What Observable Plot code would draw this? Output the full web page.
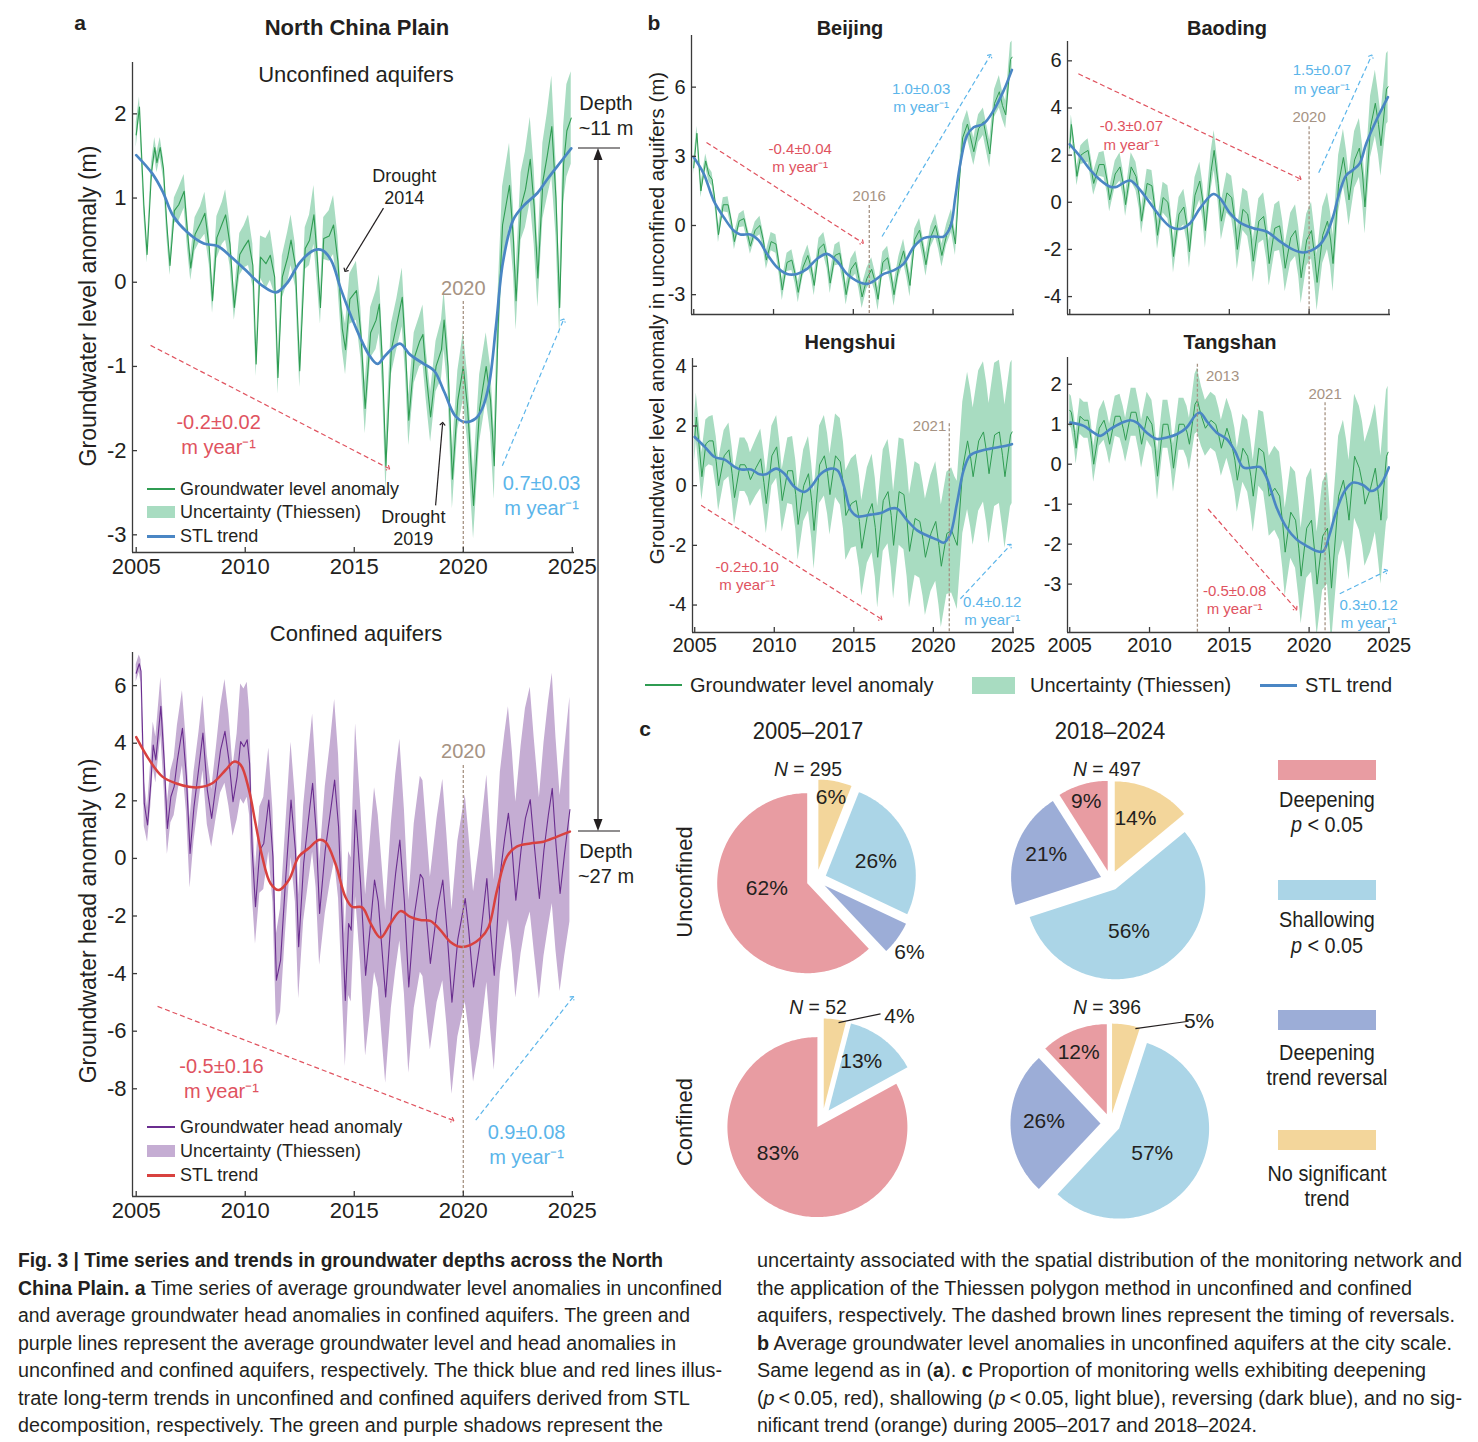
<!DOCTYPE html>
<html><head><meta charset="utf-8">
<script src="https://cdn.jsdelivr.net/npm/d3@7"></script>
<script src="https://cdn.jsdelivr.net/npm/@observablehq/plot@0.6"></script>
<style>
body{margin:0;background:#fff;}
#page{position:relative;width:1478px;height:1442px;overflow:hidden;font-family:"Liberation Sans",Arial,Helvetica,sans-serif;color:#231f20;background:#fff;}
#page svg{overflow:visible;}
.abs{position:absolute;white-space:nowrap;line-height:1;}
</style></head>
<body><div id="page"></div>
<script>
// ---------------- DATA ----------------
const years = [2005, 2010, 2015, 2020, 2025];
// North China Plain, unconfined: [year, anomaly (m), uncertainty half-width (m)]
const ncpUnconfined = [
[2005.0,1.75,0.15],[2005.15,2.08,0.12],[2005.35,0.92,0.12],[2005.5,0.33,0.1],[2005.7,1.3,0.12],[2005.85,1.6,0.12],[2005.95,1.42,0.12],
[2006.1,1.6,0.12],[2006.25,1.35,0.12],[2006.4,0.7,0.15],[2006.55,0.2,0.12],[2006.75,0.85,0.15],[2006.95,0.92,0.2],
[2007.2,1.08,0.2],[2007.35,0.6,0.2],[2007.5,0.17,0.15],[2007.7,0.57,0.2],[2007.95,0.7,0.2],
[2008.15,0.82,0.25],[2008.35,0.41,0.2],[2008.5,-0.22,0.15],[2008.7,0.53,0.25],[2008.95,0.7,0.25],
[2009.1,0.8,0.3],[2009.3,0.45,0.25],[2009.5,-0.3,0.15],[2009.75,0.33,0.25],[2009.95,0.42,0.25],
[2010.15,0.5,0.3],[2010.35,0.2,0.25],[2010.5,-0.97,0.15],[2010.7,0.3,0.25],[2010.95,0.22,0.3],
[2011.15,0.32,0.3],[2011.35,0.06,0.2],[2011.5,-1.13,0.2],[2011.7,0.06,0.25],[2011.95,0.3,0.3],
[2012.1,0.5,0.3],[2012.3,0.2,0.25],[2012.5,-1.05,0.2],[2012.75,0.4,0.25],[2012.95,0.5,0.3],
[2013.15,0.8,0.35],[2013.3,0.3,0.3],[2013.45,-0.3,0.2],[2013.6,0.52,0.25],[2013.85,0.55,0.3],
[2014.05,0.68,0.35],[2014.25,0.25,0.3],[2014.45,-0.55,0.25],[2014.6,-0.8,0.3],[2014.8,-0.2,0.3],
[2015.1,-0.1,0.35],[2015.3,-0.6,0.3],[2015.5,-1.5,0.3],[2015.75,-0.6,0.3],
[2016.0,-0.45,0.35],[2016.15,-0.26,0.35],[2016.3,-1.0,0.3],[2016.45,-2.18,0.3],[2016.7,-0.8,0.3],[2016.95,-0.5,0.3],
[2017.2,-0.18,0.35],[2017.35,-0.8,0.3],[2017.5,-1.64,0.3],[2017.75,-0.9,0.3],
[2018.0,-0.7,0.3],[2018.15,-0.62,0.35],[2018.3,-1.1,0.3],[2018.5,-1.6,0.3],[2018.75,-1.0,0.3],
[2019.0,-0.8,0.35],[2019.12,-0.45,0.35],[2019.3,-1.0,0.3],[2019.5,-2.34,0.35],[2019.75,-1.4,0.35],
[2020.0,-1.0,0.4],[2020.2,-1.5,0.4],[2020.47,-2.65,0.4],[2020.75,-1.5,0.4],
[2021.05,-1.0,0.4],[2021.25,-1.4,0.4],[2021.42,-2.18,0.4],[2021.6,-0.5,0.4],[2021.8,0.68,0.45],
[2022.12,1.15,0.5],[2022.3,0.5,0.4],[2022.42,-0.22,0.35],[2022.65,0.9,0.4],[2022.85,1.1,0.45],
[2023.07,1.46,0.5],[2023.25,0.9,0.45],[2023.42,0.05,0.35],[2023.65,1.2,0.45],[2023.85,1.5,0.5],
[2024.06,1.85,0.6],[2024.25,1.0,0.45],[2024.42,-0.3,0.35],[2024.6,1.4,0.45],[2024.75,1.8,0.55],[2024.95,1.95,0.55]
];
const ncpUnconfinedTrend = [
[2005.0,1.51],[2005.74,1.29],[2006.21,1.08],[2006.69,0.79],[2007.32,0.6],[2008.1,0.46],[2008.73,0.43],[2009.36,0.3],
[2009.99,0.15],[2010.78,-0.04],[2011.41,-0.12],[2011.89,-0.02],[2012.52,0.24],[2013.15,0.38],[2013.54,0.38],[2013.94,0.26],
[2014.41,-0.1],[2015.04,-0.52],[2015.67,-0.86],[2016.06,-0.97],[2016.46,-0.86],[2017.09,-0.73],[2017.56,-0.86],[2018.19,-0.97],
[2018.66,-1.05],[2019.14,-1.31],[2019.61,-1.58],[2020.08,-1.66],[2020.56,-1.62],[2020.87,-1.5],[2021.19,-1.2],[2021.5,-0.52],
[2021.82,0.24],[2022.29,0.74],[2022.77,0.91],[2023.4,1.06],[2023.87,1.23],[2024.5,1.44],[2024.95,1.59]
];
// North China Plain, confined: [year, head anomaly (m), uncertainty half-width (m)]
const ncpConfined = [
[2005.0,6.43,0.3],[2005.14,6.76,0.3],[2005.22,6.5,0.4],[2005.37,1.91,0.8],[2005.52,1.16,0.6],[2005.67,2.61,0.8],[2005.78,3.94,0.8],[2005.9,3.42,0.8],
[2006.13,5.28,1.0],[2006.28,3.42,1.0],[2006.43,1.04,0.9],[2006.59,2.14,0.9],[2006.74,2.49,1.0],[2006.89,3.42,1.2],
[2007.12,4.52,1.3],[2007.3,2.84,1.2],[2007.47,0.17,1.2],[2007.65,1.8,1.2],[2007.88,3.19,1.2],
[2008.06,4.35,1.3],[2008.26,2.38,1.2],[2008.46,1.39,1.0],[2008.67,2.61,1.2],[2008.87,3.77,1.5],
[2009.07,4.41,1.8],[2009.25,3.42,1.6],[2009.44,1.97,1.2],[2009.63,2.84,1.5],[2009.79,4.06,2.0],[2009.94,3.88,2.0],
[2010.09,4.12,2.0],[2010.2,3.3,1.8],[2010.32,0.29,1.5],[2010.47,-1.68,1.3],[2010.67,0.29,1.5],[2010.85,0.52,1.6],
[2011.08,2.03,1.8],[2011.27,0.06,1.6],[2011.43,-4.23,1.6],[2011.62,-3.54,1.8],[2011.84,-0.87,1.8],
[2012.1,2.03,2.0],[2012.3,0.29,1.8],[2012.45,-3.07,1.8],[2012.68,-0.17,2.0],[2012.88,1.22,2.2],
[2013.09,2.61,2.4],[2013.25,0.99,2.0],[2013.41,-1.91,1.8],[2013.67,0.29,2.2],[2013.9,1.57,2.4],
[2014.1,2.72,2.8],[2014.28,1.1,2.5],[2014.59,-4.93,2.3],[2014.74,-2.26,2.5],[2014.86,-2.49,2.5],
[2015.06,1.68,3.0],[2015.29,-0.87,2.8],[2015.52,-4.06,2.8],[2015.72,-2.49,3.0],[2015.93,-0.75,3.2],
[2016.1,-1.5,3.0],[2016.44,-4.81,3.0],[2016.7,-2.0,3.2],[2016.9,-0.5,3.4],
[2017.09,0.64,3.5],[2017.3,-1.5,3.2],[2017.5,-4.46,3.0],[2017.75,-2.0,3.2],
[2018.03,-0.55,3.4],[2018.15,-0.7,3.4],[2018.49,-3.65,3.0],[2018.8,-1.8,3.2],
[2019.06,-0.75,3.5],[2019.25,-2.5,3.3],[2019.48,-4.99,3.2],[2019.75,-2.8,3.4],
[2020.09,-1.39,3.6],[2020.25,-2.5,3.4],[2020.47,-4.46,3.3],[2020.75,-3.0,3.5],
[2021.08,-0.7,3.6],[2021.25,-2.5,3.4],[2021.42,-4.06,3.3],[2021.7,-0.5,3.5],[2021.9,0.7,3.6],
[2022.07,1.57,3.7],[2022.25,0.2,3.5],[2022.41,-1.45,3.4],[2022.65,0.3,3.6],[2022.85,1.4,3.8],
[2023.07,2.04,3.9],[2023.25,0.5,3.7],[2023.49,-1.39,3.5],[2023.7,0.3,3.7],[2023.9,1.5,3.9],
[2024.08,2.43,4.0],[2024.25,0.5,3.7],[2024.44,-1.22,3.4],[2024.65,0.2,3.6],[2024.89,1.7,3.9]
];
const ncpConfinedTrend = [
[2005.0,4.21],[2005.6,3.42],[2006.2,2.84],[2006.81,2.61],[2007.42,2.49],[2007.88,2.47],[2008.49,2.61],[2009.1,3.07],
[2009.48,3.36],[2009.79,3.25],[2010.17,2.38],[2010.47,1.22],[2010.78,0.06],[2011.16,-0.87],[2011.54,-1.1],[2012.0,-0.75],
[2012.45,0.06],[2012.91,0.35],[2013.37,0.64],[2013.67,0.58],[2014.13,-0.17],[2014.59,-1.33],[2014.9,-1.68],[2015.36,-1.7],
[2015.75,-2.26],[2016.2,-2.75],[2016.66,-2.26],[2017.12,-1.83],[2017.57,-2.03],[2018.03,-2.14],[2018.49,-2.17],[2018.95,-2.49],
[2019.41,-2.9],[2019.86,-3.07],[2020.32,-3.01],[2020.78,-2.78],[2021.16,-2.38],[2021.55,-1.1],[2022.0,0.06],[2022.45,0.41],
[2023.07,0.52],[2023.68,0.58],[2024.28,0.75],[2024.89,0.93]
];
// Cities, unconfined: [year, anomaly (m), uncertainty half-width (m)]
const beijing = [
[2005.0,2.5,0.3],[2005.2,4.0,0.3],[2005.45,1.5,0.3],[2005.75,2.8,0.3],[2005.95,2.2,0.3],[2006.15,2.0,0.3],[2006.35,1.0,0.3],[2006.55,-0.4,0.35],[2006.85,0.9,0.3],
[2007.15,0.9,0.35],[2007.35,0.2,0.3],[2007.55,-0.7,0.35],[2007.85,0.2,0.3],[2008.15,0.3,0.35],[2008.35,-0.3,0.3],[2008.55,-0.9,0.35],[2008.85,-0.2,0.35],
[2009.15,0.0,0.4],[2009.35,-0.6,0.35],[2009.55,-1.5,0.4],[2009.85,-0.7,0.4],[2010.15,-0.8,0.4],[2010.35,-1.7,0.4],[2010.55,-2.8,0.45],[2010.85,-1.6,0.4],
[2011.15,-1.5,0.45],[2011.35,-2.1,0.4],[2011.55,-2.9,0.45],[2011.85,-1.8,0.4],[2012.15,-1.3,0.45],[2012.35,-1.8,0.4],[2012.55,-2.6,0.45],[2012.85,-1.0,0.45],
[2013.15,-0.8,0.5],[2013.35,-1.4,0.45],[2013.55,-2.5,0.45],[2013.85,-1.3,0.45],[2014.15,-1.2,0.5],[2014.35,-2.0,0.45],[2014.55,-3.0,0.45],[2014.85,-1.9,0.45],
[2015.15,-1.6,0.5],[2015.35,-2.3,0.45],[2015.55,-3.1,0.5],[2015.85,-2.3,0.45],[2016.15,-1.9,0.5],[2016.35,-2.4,0.45],[2016.55,-3.2,0.5],[2016.85,-1.6,0.45],
[2017.15,-1.4,0.5],[2017.35,-2.1,0.45],[2017.55,-3.0,0.5],[2017.85,-1.8,0.45],[2018.15,-1.1,0.5],[2018.35,-1.8,0.45],[2018.55,-2.6,0.5],[2018.85,-0.6,0.45],
[2019.15,-0.2,0.5],[2019.35,-0.9,0.45],[2019.55,-1.7,0.5],[2019.85,-0.5,0.45],[2020.15,0.0,0.5],[2020.35,-0.6,0.45],[2020.55,-1.3,0.5],[2020.85,-0.4,0.45],
[2021.15,0.2,0.5],[2021.4,-0.8,0.5],[2021.6,1.5,0.6],[2021.85,3.8,0.6],[2022.15,4.4,0.6],[2022.35,3.8,0.6],[2022.55,3.2,0.6],[2022.85,4.2,0.6],
[2023.15,4.5,0.6],[2023.35,3.8,0.6],[2023.55,3.1,0.6],[2023.85,5.3,0.6],[2024.15,5.8,0.7],[2024.35,5.2,0.6],[2024.55,4.8,0.6],[2024.85,7.2,0.7],[2024.95,7.3,0.7]
];
const beijingTrend = [
[2005.0,2.96],[2005.63,2.24],[2006.25,1.08],[2006.88,0.36],[2007.5,-0.22],[2007.92,-0.39],[2008.55,-0.39],[2009.07,-0.65],[2009.59,-1.23],
[2010.22,-1.81],[2010.85,-2.1],[2011.47,-2.1],[2012.1,-1.88],[2012.72,-1.45],[2013.35,-1.23],[2013.98,-1.55],[2014.6,-2.1],[2015.23,-2.41],
[2015.86,-2.53],[2016.27,-2.41],[2016.9,-2.1],[2017.53,-1.95],[2018.15,-1.66],[2018.78,-0.94],[2019.41,-0.55],[2020.03,-0.48],[2020.66,-0.48],
[2021.08,-0.07],[2021.39,1.23],[2021.7,2.67],[2022.12,3.9],[2022.54,4.26],[2023.16,4.41],[2023.79,4.99],[2024.42,5.85],[2024.94,6.75]
];
const baoding = [
[2005.0,2.3,0.4],[2005.1,3.3,0.4],[2005.25,2.5,0.4],[2005.45,1.1,0.4],[2005.7,2.0,0.4],[2005.9,2.1,0.45],
[2006.15,2.2,0.5],[2006.35,1.4,0.5],[2006.5,0.8,0.5],[2006.85,1.6,0.5],[2007.15,1.6,0.55],[2007.35,0.9,0.5],[2007.5,0.1,0.5],[2007.85,1.2,0.55],
[2008.15,1.5,0.6],[2008.35,0.8,0.55],[2008.5,-0.1,0.5],[2008.85,1.5,0.6],[2009.15,1.1,0.6],[2009.35,0.3,0.55],[2009.5,-0.8,0.55],[2009.85,0.8,0.6],
[2010.15,0.7,0.65],[2010.35,-0.3,0.6],[2010.5,-1.4,0.6],[2010.85,0.2,0.65],[2011.15,0.0,0.7],[2011.35,-1.0,0.65],[2011.5,-2.3,0.7],[2011.85,-0.5,0.7],
[2012.15,-0.2,0.75],[2012.35,-1.0,0.7],[2012.5,-2.1,0.7],[2012.85,0.3,0.75],[2013.15,0.9,0.8],[2013.35,0.0,0.75],[2013.5,-1.2,0.75],[2013.85,1.3,0.8],
[2014.05,2.2,0.85],[2014.3,0.8,0.8],[2014.5,-0.8,0.8],[2014.85,0.4,0.85],[2015.15,0.2,0.9],[2015.35,-0.8,0.85],[2015.5,-2.0,0.85],[2015.85,-0.3,0.9],
[2016.15,-0.5,0.95],[2016.35,-1.4,0.9],[2016.5,-2.5,0.9],[2016.85,-0.8,0.95],[2017.15,-0.6,1.0],[2017.35,-1.5,0.95],[2017.5,-2.6,0.95],[2017.85,-1.1,1.0],
[2018.15,-1.0,1.05],[2018.35,-1.8,1.0],[2018.5,-2.8,1.0],[2018.85,-1.5,1.05],[2019.15,-1.2,1.1],[2019.35,-2.1,1.05],[2019.5,-3.2,1.1],[2019.85,-1.6,1.1],
[2020.15,-1.2,1.2],[2020.35,-2.3,1.15],[2020.5,-3.4,1.2],[2020.85,-1.4,1.2],[2021.15,-0.8,1.2],[2021.35,-1.6,1.15],[2021.5,-2.6,1.2],[2021.85,0.8,1.2],
[2022.15,1.9,1.2],[2022.35,1.0,1.15],[2022.5,0.1,1.1],[2022.85,1.8,1.2],[2023.15,2.3,1.25],[2023.35,1.2,1.2],[2023.5,-0.2,1.15],[2023.85,3.2,1.3],
[2024.15,4.2,1.4],[2024.35,3.3,1.3],[2024.5,2.4,1.3],[2024.85,4.8,1.5],[2024.95,4.9,1.5]
];
const baodingTrend = [
[2005.0,2.46],[2005.67,1.93],[2006.29,1.37],[2006.92,0.94],[2007.54,0.66],[2007.96,0.66],[2008.38,0.83],[2008.79,0.92],[2009.42,0.52],
[2010.04,-0.04],[2010.67,-0.61],[2011.29,-1.03],[2011.92,-1.13],[2012.54,-0.89],[2013.17,-0.25],[2014.0,0.35],[2014.42,0.17],[2015.04,-0.46],
[2015.67,-0.86],[2016.5,-1.1],[2017.33,-1.24],[2018.17,-1.66],[2019.0,-2.01],[2019.62,-2.13],[2020.15,-2.04],[2020.67,-1.8],[2021.08,-1.38],
[2021.5,-0.61],[2021.92,0.45],[2022.33,1.15],[2022.75,1.37],[2023.17,1.65],[2023.58,2.49],[2024.21,3.48],[2024.94,4.46]
];
const hengshui = [
[2005.0,1.6,0.8],[2005.1,2.3,0.8],[2005.3,1.2,0.8],[2005.45,0.3,0.8],[2005.7,1.4,0.8],[2005.9,1.5,0.8],
[2006.15,1.5,0.85],[2006.35,0.8,0.85],[2006.5,0.0,0.85],[2006.85,1.0,0.85],[2007.15,1.2,0.9],[2007.35,0.4,0.9],[2007.5,-0.4,0.9],[2007.85,0.7,0.9],
[2008.15,0.7,0.9],[2008.35,0.5,0.9],[2008.5,0.2,0.9],[2008.85,0.6,0.95],[2009.15,0.9,1.0],[2009.35,0.1,1.0],[2009.5,-0.6,1.0],[2009.85,1.0,1.0],
[2010.15,1.3,1.05],[2010.35,0.4,1.05],[2010.5,-0.5,1.05],[2010.85,0.5,1.1],[2011.15,0.5,1.15],[2011.35,-0.3,1.15],[2011.5,-1.3,1.2],[2011.85,0.0,1.2],
[2012.15,0.4,1.25],[2012.35,-0.5,1.25],[2012.5,-1.5,1.3],[2012.85,0.7,1.3],[2013.15,1.0,1.35],[2013.35,0.4,1.35],[2013.5,-0.3,1.35],[2013.85,1.0,1.4],
[2014.15,0.8,1.45],[2014.35,0.0,1.45],[2014.5,-1.0,1.5],[2014.85,-0.6,1.5],[2015.15,-0.5,1.55],[2015.35,-1.2,1.55],[2015.5,-2.1,1.6],[2015.85,-1.0,1.6],
[2016.15,-0.6,1.65],[2016.35,-1.4,1.65],[2016.5,-2.4,1.7],[2016.85,-0.5,1.7],[2017.15,-0.2,1.75],[2017.35,-1.0,1.75],[2017.5,-2.0,1.8],[2017.85,-0.2,1.8],
[2018.15,-0.3,1.85],[2018.35,-1.2,1.85],[2018.5,-2.2,1.9],[2018.85,-1.1,1.9],[2019.15,-1.2,1.9],[2019.35,-1.8,1.9],[2019.5,-2.4,1.95],[2019.85,-1.6,1.95],
[2020.15,-1.2,2.0],[2020.35,-2.0,2.0],[2020.5,-2.7,2.05],[2020.85,-1.6,2.05],[2021.15,-1.5,2.1],[2021.35,-1.8,2.1],[2021.5,-2.0,2.15],[2021.85,0.6,2.2],
[2022.15,1.5,2.3],[2022.35,0.9,2.3],[2022.5,0.3,2.3],[2022.85,1.5,2.35],[2023.15,1.8,2.35],[2023.35,1.1,2.35],[2023.5,0.4,2.35],[2023.85,1.7,2.4],
[2024.15,1.8,2.4],[2024.35,1.0,2.4],[2024.5,0.3,2.4],[2024.85,1.7,2.4],[2024.95,1.8,2.4]
];
const hengshuiTrend = [
[2005.0,1.63],[2005.63,1.3],[2006.25,0.96],[2006.88,0.87],[2007.5,0.63],[2007.92,0.54],[2008.55,0.54],[2009.07,0.38],[2009.49,0.38],
[2010.11,0.57],[2010.64,0.4],[2011.26,-0.04],[2011.89,-0.21],[2012.31,-0.04],[2012.93,0.4],[2013.56,0.57],[2013.98,0.51],[2014.39,-0.04],
[2014.81,-0.83],[2015.23,-1.03],[2016.06,-0.97],[2016.69,-0.92],[2017.31,-0.77],[2017.72,-0.77],[2018.35,-1.16],[2018.98,-1.5],[2019.6,-1.67],
[2020.23,-1.81],[2020.65,-1.91],[2021.06,-1.63],[2021.48,-0.6],[2021.9,0.51],[2022.32,1.02],[2022.95,1.16],[2023.58,1.24],[2024.2,1.3],[2024.94,1.39]
];
const tangshan = [
[2005.0,1.35,0.4],[2005.1,1.3,0.4],[2005.3,0.8,0.4],[2005.4,0.4,0.4],[2005.65,1.2,0.45],[2005.9,1.1,0.45],
[2006.15,1.1,0.45],[2006.35,0.6,0.45],[2006.5,0.0,0.45],[2006.85,0.9,0.45],[2007.15,1.1,0.5],[2007.35,0.8,0.5],[2007.5,0.5,0.5],[2007.85,1.2,0.5],
[2008.15,1.2,0.55],[2008.35,0.9,0.55],[2008.5,0.6,0.55],[2008.85,1.3,0.6],[2009.15,1.3,0.6],[2009.35,0.9,0.6],[2009.5,0.5,0.6],[2009.85,1.2,0.6],
[2010.15,1.0,0.6],[2010.35,0.4,0.6],[2010.5,-0.3,0.6],[2010.85,1.0,0.6],[2011.15,1.0,0.6],[2011.35,0.5,0.6],[2011.5,-0.1,0.6],[2011.85,1.0,0.65],
[2012.15,1.0,0.65],[2012.35,0.8,0.65],[2012.5,0.5,0.65],[2012.85,1.5,0.75],[2013.0,1.6,0.8],[2013.25,1.2,0.75],[2013.5,0.9,0.7],[2013.85,1.1,0.7],
[2014.15,1.0,0.7],[2014.35,0.7,0.7],[2014.5,0.4,0.7],[2014.85,0.9,0.75],[2015.15,0.5,0.8],[2015.35,0.1,0.8],[2015.5,-0.4,0.8],[2015.85,0.4,0.85],
[2016.15,0.2,0.9],[2016.35,-0.3,0.9],[2016.5,-0.8,0.9],[2016.85,0.4,0.95],[2017.15,0.3,1.0],[2017.35,-0.3,1.0],[2017.5,-0.8,1.0],[2017.85,-0.6,1.05],
[2018.15,-0.8,1.1],[2018.35,-1.5,1.1],[2018.5,-2.2,1.1],[2018.85,-1.2,1.15],[2019.15,-1.4,1.2],[2019.35,-2.1,1.2],[2019.5,-2.8,1.2],[2019.85,-1.6,1.25],
[2020.15,-1.4,1.3],[2020.35,-2.2,1.3],[2020.5,-3.0,1.3],[2020.85,-1.8,1.35],[2021.15,-1.6,1.4],[2021.3,-2.4,1.4],[2021.4,-3.1,1.4],[2021.85,-0.8,1.5],
[2022.15,-0.4,1.5],[2022.35,-0.9,1.5],[2022.5,-1.4,1.5],[2022.85,0.2,1.55],[2023.15,-0.1,1.55],[2023.35,-0.5,1.55],[2023.5,-1.0,1.55],[2023.85,-0.6,1.6],
[2024.15,-0.1,1.6],[2024.35,-0.8,1.6],[2024.5,-1.4,1.6],[2024.85,0.2,1.65],[2024.95,0.3,1.65]
];
const tangshanTrend = [
[2005.04,1.04],[2005.88,0.96],[2006.5,0.79],[2006.92,0.71],[2007.54,0.88],[2008.17,1.02],[2008.79,1.1],[2009.21,1.04],[2009.83,0.79],
[2010.46,0.63],[2011.08,0.67],[2011.71,0.75],[2012.33,0.92],[2012.85,1.21],[2013.17,1.29],[2013.58,1.08],[2014.21,0.79],[2014.83,0.63],
[2015.35,0.33],[2015.88,-0.08],[2016.5,-0.08],[2016.92,-0.07],[2017.33,-0.33],[2017.96,-1.08],[2018.58,-1.58],[2019.21,-1.88],[2019.83,-2.04],
[2020.46,-2.17],[2020.88,-2.18],[2021.29,-1.75],[2021.71,-1.17],[2022.23,-0.67],[2022.75,-0.46],[2023.38,-0.52],[2023.9,-0.67],[2024.42,-0.54],[2025.0,-0.08]
];
// Panel c: shares of monitoring wells (%)
const trendCategories = ["No significant trend", "Shallowing", "Deepening trend reversal", "Deepening"];
const unconfined0517 = [6, 26, 6, 62];
const unconfined1824 = [14, 56, 21, 9];
const confined0517 = [4, 13, 0, 83];
const confined1824 = [5, 57, 26, 12];
const wellCounts = {u0517: 295, u1824: 497, c0517: 52, c1824: 396};

// ---------------- STYLE ----------------
const FONT = '"Liberation Sans", Arial, Helvetica, sans-serif';
const INK = '#231f20', AXIS = '#3b3b3b';
const GREEN = '#2f9c52', GREEN_BAND = '#a8dcc1', BLUE_TREND = '#4a86c4';
const PURPLE = '#6a2d8f', PURPLE_BAND = '#c5add3', RED_TREND = '#d8413f';
const RED_TXT = '#e0535f', BLUE_TXT = '#5bb5ea', BROWN = '#a69383';
const PIE_COLORS = ['#f3d69b', '#abd5e7', '#9cadd7', '#e89ca2'];

const page = document.getElementById('page');

function label(x, y, html, o = {}) {
  const d = document.createElement('div');
  d.className = 'abs';
  d.innerHTML = html;
  const s = d.style;
  s.left = x + 'px'; s.top = y + 'px';
  s.fontSize = (o.size || 20) + 'px';
  s.fontWeight = o.bold ? '700' : '400';
  s.fontFamily = o.family || FONT;
  s.color = o.color || INK;
  const ax = o.anchor === 'start' ? '0' : o.anchor === 'end' ? '-100%' : '-50%';
  s.transform = `translate(${ax}, -50%)` + (o.rotate ? ` rotate(${o.rotate}deg)` : '') + (o.sx ? ` scaleX(${o.sx})` : '');
  if (o.sx && o.anchor === 'start') s.transformOrigin = 'left center';
  page.appendChild(d);
}
function box(x, y, w, h, color) {
  const d = document.createElement('div');
  d.className = 'abs';
  Object.assign(d.style, {left: x + 'px', top: y + 'px', width: w + 'px', height: h + 'px', background: color});
  page.appendChild(d);
}
function place(svg, left, top) {
  svg.style.position = 'absolute';
  svg.style.left = left + 'px';
  svg.style.top = top + 'px';
  page.appendChild(svg);
}

// ---------------- TIME-SERIES PANELS ----------------
function tsPanel(o) {
  const [x0, y0, x1, y1] = o.box;
  const W = x1 - x0, H = y1 - y0;
  const pl = 60, pr = 40, pt = 30, pb = 40;
  const bandData = o.series.map(([t, v, w]) => ({t, lo: v - w, hi: v + w}));
  const lineData = o.series.map(([t, v]) => ({t, v}));
  const trendData = o.trend.map(([t, v]) => ({t, v}));
  const marks = [
    Plot.areaY(bandData, {x: 't', y1: 'lo', y2: 'hi', fill: o.bandColor, clip: true}),
    Plot.lineY(lineData, {x: 't', y: 'v', stroke: o.lineColor, strokeWidth: o.lineWidth || 1, clip: true}),
    Plot.lineY(trendData, {x: 't', y: 'v', stroke: o.trendColor, strokeWidth: o.trendWidth || 2.5, curve: 'catmull-rom', clip: true})
  ];
  for (const r of o.reversals || []) {
    marks.push(Plot.ruleX([r], {x: 'year', y1: 'from', y2: o.yDomain[0], stroke: BROWN, strokeWidth: 1.3, strokeDasharray: '3,2'}));
    marks.push(Plot.text([r], {x: 'tx', y: 'ty', text: d => String(d.year), fill: BROWN, fontSize: r.size}));
  }
  for (const a of o.arrows || []) {
    const opts = {x1: 'x1', y1: 'y1', x2: 'x2', y2: 'y2', stroke: a.color, strokeWidth: a.width || 1.2, markerEnd: 'arrow'};
    if (a.dash) opts.strokeDasharray = '5,3';
    marks.push(Plot.link([a], opts));
  }
  for (const t of o.texts || []) {
    marks.push(Plot.text([t], {x: 'x', y: 'y', text: 's', fill: t.color, fontSize: t.size, lineHeight: t.lh || 1.25}));
  }
  marks.push(Plot.ruleX([o.xDomain[0]], {stroke: AXIS, strokeWidth: 1.3}));
  marks.push(Plot.ruleY([o.yDomain[0]], {stroke: AXIS, strokeWidth: 1.3}));
  marks.push(Plot.tickX(o.xTicks, {x: d => d, insetTop: H - 5, stroke: AXIS, strokeWidth: 1.3}));
  marks.push(Plot.tickY(o.yTicks, {y: d => d, insetRight: W - 5, stroke: AXIS, strokeWidth: 1.3}));
  if (o.xLabels) marks.push(Plot.axisX(o.xTicks, {tickSize: 0, tickPadding: o.xPad || 5, tickFormat: d => String(d), fontSize: o.tickFont}));
  marks.push(Plot.axisY(o.yTicks, {tickSize: 0, tickPadding: 6, tickFormat: d => String(d), fontSize: o.tickFont}));
  const svg = Plot.plot({
    width: W + pl + pr, height: H + pt + pb,
    marginLeft: pl, marginRight: pr, marginTop: pt, marginBottom: pb,
    x: {domain: o.xDomain, axis: null},
    y: {domain: o.yDomain, axis: null},
    style: {fontFamily: FONT, fontSize: o.tickFont + 'px', color: INK, background: 'transparent', overflow: 'visible'},
    marks
  });
  place(svg, x0 - pl, y0 - pt);
}

const xDomA = [2004.83, 2025.1];
const xDomB = [2004.86, 2025.1];
const YR1 = 'm year\u207B\u00B9';

// a: unconfined
tsPanel({
  box: [132, 62, 574, 552], xDomain: xDomA, yDomain: [-3.21, 2.61],
  series: ncpUnconfined, trend: ncpUnconfinedTrend,
  lineColor: GREEN, bandColor: GREEN_BAND, trendColor: BLUE_TREND, lineWidth: 1.1, trendWidth: 2.7,
  xTicks: years, yTicks: [-3, -2, -1, 0, 1, 2], xLabels: true, tickFont: 22, xPad: 6,
  reversals: [{year: 2020, from: -0.23, tx: 2020, ty: -0.08, size: 20}],
  arrows: [
    {x1: 2005.66, y1: -0.75, x2: 2016.57, y2: -2.21, color: RED_TXT, dash: true},
    {x1: 2021.79, y1: -2.18, x2: 2024.59, y2: -0.45, color: BLUE_TXT, dash: true},
    {x1: 2016.34, y1: 0.88, x2: 2014.6, y2: 0.14, color: INK},
    {x1: 2018.73, y1: -2.65, x2: 2019.05, y2: -1.68, color: INK}
  ],
  texts: [
    {x: 2008.78, y: -1.8, s: '-0.2\u00B10.02\n' + YR1, color: RED_TXT, size: 20},
    {x: 2023.59, y: -2.52, s: '0.7\u00B10.03\n' + YR1, color: BLUE_TXT, size: 20},
    {x: 2017.29, y: 1.145, s: 'Drought\n2014', color: INK, size: 18, lh: 1.2},
    {x: 2017.71, y: -2.91, s: 'Drought\n2019', color: INK, size: 18, lh: 1.2}
  ]
});
// a: confined
tsPanel({
  box: [132, 652, 574, 1196], xDomain: xDomA, yDomain: [-11.74, 7.15],
  series: ncpConfined, trend: ncpConfinedTrend,
  lineColor: PURPLE, bandColor: PURPLE_BAND, trendColor: RED_TREND, lineWidth: 1.1, trendWidth: 2.5,
  xTicks: years, yTicks: [-8, -6, -4, -2, 0, 2, 4, 6], xLabels: true, tickFont: 22, xPad: 6,
  reversals: [{year: 2020, from: 3.23, tx: 2020, ty: 3.71, size: 20}],
  arrows: [
    {x1: 2005.98, y1: -5.14, x2: 2019.51, y2: -9.09, color: RED_TXT, dash: true},
    {x1: 2020.57, y1: -9.09, x2: 2025.02, y2: -4.83, color: BLUE_TXT, dash: true}
  ],
  texts: [
    {x: 2008.91, y: -7.61, s: '-0.5\u00B10.16\n' + YR1, color: RED_TXT, size: 20},
    {x: 2022.9, y: -9.9, s: '0.9\u00B10.08\n' + YR1, color: BLUE_TXT, size: 20}
  ]
});
// b: cities
tsPanel({
  box: [691, 35, 1014, 314], xDomain: xDomB, yDomain: [-3.86, 8.24],
  series: beijing, trend: beijingTrend,
  lineColor: GREEN, bandColor: GREEN_BAND, trendColor: BLUE_TREND, lineWidth: 1, trendWidth: 2.6,
  xTicks: years, yTicks: [-3, 0, 3, 6], xLabels: false, tickFont: 20,
  reversals: [{year: 2016, from: 0.87, tx: 2016, ty: 1.26, size: 15}],
  arrows: [
    {x1: 2005.8, y1: 3.6, x2: 2015.56, y2: -0.74, color: RED_TXT, dash: true},
    {x1: 2016.8, y1: -0.48, x2: 2023.58, y2: 7.37, color: BLUE_TXT, dash: true}
  ],
  texts: [
    {x: 2011.67, y: 2.97, s: '-0.4\u00B10.04\n' + YR1, color: RED_TXT, size: 15},
    {x: 2019.25, y: 5.57, s: '1.0\u00B10.03\n' + YR1, color: BLUE_TXT, size: 15}
  ]
});
tsPanel({
  box: [1067, 41, 1390, 314], xDomain: xDomB, yDomain: [-4.76, 6.82],
  series: baoding, trend: baodingTrend,
  lineColor: GREEN, bandColor: GREEN_BAND, trendColor: BLUE_TREND, lineWidth: 1, trendWidth: 2.6,
  xTicks: years, yTicks: [-4, -2, 0, 2, 4, 6], xLabels: false, tickFont: 20,
  reversals: [{year: 2020, from: 3.2, tx: 2020, ty: 3.63, size: 15}],
  arrows: [
    {x1: 2005.54, y1: 5.45, x2: 2019.42, y2: 1.0, color: RED_TXT, dash: true},
    {x1: 2020.6, y1: 1.25, x2: 2023.9, y2: 6.2, color: BLUE_TXT, dash: true}
  ],
  texts: [
    {x: 2008.86, y: 2.86, s: '-0.3\u00B10.07\n' + YR1, color: RED_TXT, size: 15},
    {x: 2020.8, y: 5.26, s: '1.5\u00B10.07\n' + YR1, color: BLUE_TXT, size: 15}
  ]
});
tsPanel({
  box: [692, 358, 1014, 632], xDomain: xDomB, yDomain: [-4.92, 4.26],
  series: hengshui, trend: hengshuiTrend,
  lineColor: GREEN, bandColor: GREEN_BAND, trendColor: BLUE_TREND, lineWidth: 1, trendWidth: 2.6,
  xTicks: years, yTicks: [-4, -2, 0, 2, 4], xLabels: true, tickFont: 20, xPad: 5,
  reversals: [{year: 2021, from: 2.07, tx: 2019.76, ty: 1.99, size: 15}],
  arrows: [
    {x1: 2005.4, y1: -0.66, x2: 2016.7, y2: -4.46, color: RED_TXT, dash: true},
    {x1: 2021.7, y1: -3.79, x2: 2024.83, y2: -2.0, color: BLUE_TXT, dash: true}
  ],
  texts: [
    {x: 2008.3, y: -2.99, s: '-0.2\u00B10.10\n' + YR1, color: RED_TXT, size: 15},
    {x: 2023.7, y: -4.17, s: '0.4\u00B10.12\n' + YR1, color: BLUE_TXT, size: 15}
  ]
});
tsPanel({
  box: [1067, 357, 1390, 632], xDomain: xDomB, yDomain: [-4.21, 2.67],
  series: tangshan, trend: tangshanTrend,
  lineColor: GREEN, bandColor: GREEN_BAND, trendColor: BLUE_TREND, lineWidth: 1, trendWidth: 2.6,
  xTicks: years, yTicks: [-3, -2, -1, 0, 1, 2], xLabels: true, tickFont: 20, xPad: 5,
  reversals: [{year: 2013, from: 2.5, tx: 2014.58, ty: 2.2, size: 15}, {year: 2021, from: 1.54, tx: 2021, ty: 1.74, size: 15}],
  arrows: [
    {x1: 2013.67, y1: -1.12, x2: 2019.17, y2: -3.62, color: RED_TXT, dash: true},
    {x1: 2021.92, y1: -3.24, x2: 2024.84, y2: -2.67, color: BLUE_TXT, dash: true}
  ],
  texts: [
    {x: 2015.33, y: -3.37, s: '-0.5\u00B10.08\n' + YR1, color: RED_TXT, size: 15},
    {x: 2023.73, y: -3.72, s: '0.3\u00B10.12\n' + YR1, color: BLUE_TXT, size: 15}
  ]
});

// ---------------- PIES ----------------
function piePanel(o) {
  const R = 0.9, E = 0.1, S = 250;
  const arcs = d3.pie().sort(null).value(d => d)(o.values);
  const feats = [];
  arcs.forEach((a, i) => {
    if (o.values[i] <= 0) return;
    const mid = (a.startAngle + a.endAngle) / 2;
    const dx = E * Math.sin(mid), dy = -E * Math.cos(mid);
    const n = Math.max(4, Math.ceil((a.endAngle - a.startAngle) / 0.02));
    const ring = [[dx, dy]];
    for (let k = 0; k <= n; k++) {
      const ang = a.startAngle + (a.endAngle - a.startAngle) * k / n;
      ring.push([dx + R * Math.sin(ang), dy - R * Math.cos(ang)]);
    }
    ring.push([dx, dy]);
    feats.push({type: 'Feature', properties: {cat: trendCategories[i]}, geometry: {type: 'Polygon', coordinates: [ring]}});
  });
  const pos = (r, deg) => [r * R * Math.sin(deg * Math.PI / 180), -r * R * Math.cos(deg * Math.PI / 180)];
  const labels = o.labels.map(([i, r, deg]) => { const [x, y] = pos(r, deg); return {x, y, s: o.values[i] + '%'}; });
  const leaders = (o.leaders || []).map(([r1, a1, r2, a2]) => { const [xa, ya] = pos(r1, a1), [xb, yb] = pos(r2, a2); return {xa, ya, xb, yb}; });
  const h = 1.25;
  const domain = {type: 'Polygon', coordinates: [[[-h, -h], [h, -h], [h, h], [-h, h], [-h, -h]]]};
  const svg = Plot.plot({
    width: S, height: S, margin: 0,
    projection: {type: 'identity', domain, inset: 0},
    color: {domain: trendCategories, range: PIE_COLORS},
    style: {background: 'transparent', overflow: 'visible'},
    marks: [
      Plot.geo(feats, {fill: d => d.properties.cat, stroke: 'none'}),
      Plot.link(leaders, {x1: 'xa', y1: 'ya', x2: 'xb', y2: 'yb', stroke: INK, strokeWidth: 1.2}),
      Plot.text(labels, {x: 'x', y: 'y', text: 's', fontSize: 21, fontFamily: FONT, fill: INK})
    ]
  });
  place(svg, o.cx - S / 2, o.cy - S / 2);
}
// labels: [category index, radius (fraction of pie radius), angle deg clockwise from top]
piePanel({values: unconfined0517, cx: 816, cy: 879, labels: [[0, 0.93, 10], [1, 0.69, 73], [2, 1.31, 128], [3, 0.56, 260]]});
piePanel({values: unconfined1824, cx: 1110, cy: 880, labels: [[0, 0.74, 22], [1, 0.6, 160], [2, 0.77, 292], [3, 0.92, 343]]});
piePanel({values: confined0517, cx: 822, cy: 1118, labels: [[0, 1.42, 37], [1, 0.77, 34], [3, 0.63, 232]], leaders: [[1.08, 9.5, 1.33, 29]]});
piePanel({values: confined1824, cx: 1110, cy: 1123, labels: [[0, 1.5, 41], [1, 0.57, 125.5], [2, 0.74, 272], [3, 0.87, 336]], leaders: [[1.09, 14.7, 1.43, 37.4]]});

// ---------------- TEXT, LEGENDS, ANNOTATIONS ----------------
label(80, 22, 'a', {size: 21, bold: true});
label(357, 28, 'North China Plain', {size: 22, bold: true});
label(356, 75, 'Unconfined aquifers', {size: 22});
label(356, 634, 'Confined aquifers', {size: 22});
label(88, 306, 'Groundwater level anomaly (m)', {size: 23, rotate: -90});
label(88, 921, 'Groundwater head anomaly (m)', {size: 23, rotate: -90});

// legend a (unconfined)
box(147, 488, 28, 1.6, GREEN); label(180, 489, 'Groundwater level anomaly', {size: 18, anchor: 'start'});
box(147, 506, 28, 12, GREEN_BAND); label(180, 512, 'Uncertainty (Thiessen)', {size: 18, anchor: 'start'});
box(147, 534.5, 28, 3, BLUE_TREND); label(180, 536, 'STL trend', {size: 18, anchor: 'start'});
// legend a (confined)
box(147, 1126, 28, 1.6, PURPLE); label(180, 1127, 'Groundwater head anomaly', {size: 18, anchor: 'start'});
box(147, 1145, 28, 12, PURPLE_BAND); label(180, 1151, 'Uncertainty (Thiessen)', {size: 18, anchor: 'start'});
box(147, 1173.5, 28, 3, RED_TREND); label(180, 1175, 'STL trend', {size: 18, anchor: 'start'});

// depth annotation
{
  const ov = d3.create('svg').attr('width', 1478).attr('height', 1442)
    .style('position', 'absolute').style('left', '0px').style('top', '0px').style('pointer-events', 'none');
  const g = ov.append('g').attr('stroke', INK).attr('stroke-width', 1.2);
  g.append('line').attr('x1', 578).attr('x2', 620).attr('y1', 148).attr('y2', 148);
  g.append('line').attr('x1', 578).attr('x2', 620).attr('y1', 831).attr('y2', 831);
  g.append('line').attr('x1', 598).attr('x2', 598).attr('y1', 152).attr('y2', 827);
  ov.append('path').attr('d', 'M598,148L593.5,160L602.5,160Z').attr('fill', INK);
  ov.append('path').attr('d', 'M598,831L593.5,819L602.5,819Z').attr('fill', INK);
  page.appendChild(ov.node());
}
label(606, 103, 'Depth', {size: 20});
label(606, 128, '~11 m', {size: 20});
label(606, 851, 'Depth', {size: 20});
label(606, 876, '~27 m', {size: 20});

// b
label(654, 22, 'b', {size: 21, bold: true});
label(850, 28, 'Beijing', {size: 20, bold: true});
label(1227, 28, 'Baoding', {size: 20, bold: true});
label(850, 342, 'Hengshui', {size: 20, bold: true});
label(1230, 342, 'Tangshan', {size: 20, bold: true});
label(657, 318, 'Groundwater level anomaly in unconfined aquifers (m)', {size: 20.5, rotate: -90});
box(645, 684, 37, 1.8, GREEN); label(690, 685, 'Groundwater level anomaly', {size: 20, anchor: 'start'});
box(972, 677, 43, 17, GREEN_BAND); label(1030, 685, 'Uncertainty (Thiessen)', {size: 20, anchor: 'start'});
box(1260, 683.5, 37, 3, BLUE_TREND); label(1305, 685, 'STL trend', {size: 20, anchor: 'start'});

// c
label(645, 728, 'c', {size: 21, bold: true});
label(808, 731, '2005\u20132017', {size: 24, sx: 0.92});
label(1110, 731, '2018\u20132024', {size: 24, sx: 0.92});
label(808, 768, '<i>N</i> = ' + wellCounts.u0517, {size: 21, sx: 0.92});
label(1107, 768, '<i>N</i> = ' + wellCounts.u1824, {size: 21, sx: 0.92});
label(818, 1006, '<i>N</i> = ' + wellCounts.c0517, {size: 21, sx: 0.92});
label(1107, 1006, '<i>N</i> = ' + wellCounts.c1824, {size: 21, sx: 0.92});
label(685, 882, 'Unconfined', {size: 22, rotate: -90});
label(685, 1122, 'Confined', {size: 22, rotate: -90});
const legC = [
  [3, 760, 'Deepening', '<i>p</i> &lt; 0.05', 800, 825],
  [1, 880, 'Shallowing', '<i>p</i> &lt; 0.05', 920, 946],
  [2, 1010, 'Deepening', 'trend reversal', 1053, 1078],
  [0, 1130, 'No significant', 'trend', 1174, 1199]
];
for (const [ci, ry, l1, l2, t1, t2] of legC) {
  box(1278, ry, 98, 20, PIE_COLORS[ci]);
  label(1327, t1, l1, {size: 22, sx: 0.9});
  label(1327, t2, l2, {size: 22, sx: 0.9});
}

// ---------------- CAPTION ----------------
{
  const cap = d3.create('svg').attr('width', 1478).attr('height', 202)
    .style('position', 'absolute').style('left', '0px').style('top', '1240px');
  function capLine(x, endX, row, segs) {
    const t = cap.append('text').attr('x', x).attr('y', 20 + row * 27.5 + 7)
      .attr('textLength', endX - x).attr('lengthAdjust', 'spacingAndGlyphs')
      .attr('font-size', 20).attr('font-family', FONT).attr('fill', INK).style('white-space', 'pre');
    for (const [s, f] of segs) {
      const ts = t.append('tspan').text(s);
      if (f === 'b') ts.attr('font-weight', 'bold');
      if (f === 'i') ts.attr('font-style', 'italic');
    }
  }
  capLine(18, 663, 0, [['Fig. 3 | Time series and trends in groundwater depths across the North', 'b']]);
  capLine(18, 722, 1, [['China Plain. a', 'b'], [' Time series of average groundwater level anomalies in unconfined', '']]);
  capLine(18, 690, 2, [['and average groundwater head anomalies in confined aquifers. The green and', '']]);
  capLine(18, 676, 3, [['purple lines represent the average groundwater level and head anomalies in', '']]);
  capLine(18, 722, 4, [['unconfined and confined aquifers, respectively. The thick blue and red lines illus-', '']]);
  capLine(18, 690, 5, [['trate long-term trends in unconfined and confined aquifers derived from STL', '']]);
  capLine(18, 663, 6, [['decomposition, respectively. The green and purple shadows represent the', '']]);
  capLine(757, 1462, 0, [['uncertainty associated with the spatial distribution of the monitoring network and', '']]);
  capLine(757, 1412, 1, [['the application of the Thiessen polygon method in unconfined and confined', '']]);
  capLine(757, 1455, 2, [['aquifers, respectively. The dashed brown lines represent the timing of reversals.', '']]);
  capLine(757, 1452, 3, [['b', 'b'], [' Average groundwater level anomalies in unconfined aquifers at the city scale.', '']]);
  capLine(757, 1426, 4, [['Same legend as in (', ''], ['a', 'b'], ['). ', ''], ['c', 'b'], [' Proportion of monitoring wells exhibiting deepening', '']]);
  capLine(757, 1462, 5, [['(', ''], ['p', 'i'], ['\u2009<\u20090.05, red), shallowing (', ''], ['p', 'i'], ['\u2009<\u20090.05, light blue), reversing (dark blue), and no sig-', '']]);
  capLine(757, 1257, 6, [['nificant trend (orange) during 2005\u20132017 and 2018\u20132024.', '']]);
  page.appendChild(cap.node());
}
</script>
</body></html>
